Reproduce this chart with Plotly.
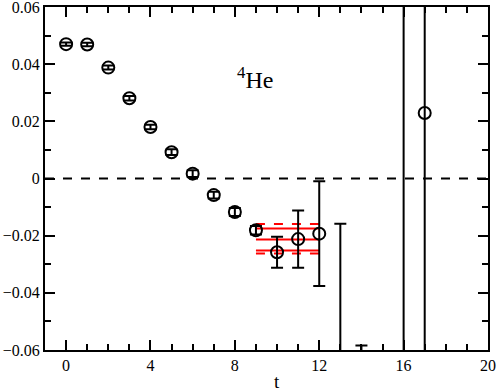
import plotly.graph_objects as go

t = [0, 1, 2, 3, 4, 5, 6, 7, 8, 9, 10, 11, 12, 13, 14, 16, 17]
val = [0.047, 0.0469, 0.0388, 0.0281, 0.0180, 0.0092, 0.0017, -0.0058, -0.0117, -0.0181,
       -0.0258, -0.0212, -0.0193, -0.090, -0.075, -0.150, 0.0229]
err = [0.0006, 0.0006, 0.0007, 0.0008, 0.0008, 0.0010, 0.0012, 0.0012, 0.0014, 0.0015,
       0.0054, 0.0100, 0.0183, 0.0742, 0.0166, 0.400, 0.300]

fit_t = [9, 12]
fit_center = -0.0213
fit_stat = [-0.0175, -0.0252]
fit_sys = [-0.0159, -0.0262]

x_tick_step = 4
y_tick_step = 0.02
x_range = [-1, 20]
y_range = [-0.06, 0.06]

label_font = "Liberation Serif"

fig = go.Figure()

# zero line
fig.add_trace(go.Scatter(x=x_range, y=[0, 0], mode="lines",
                         line=dict(color="black", width=2, dash="dash"),
                         hoverinfo="skip", showlegend=False))

# fit band
fig.add_trace(go.Scatter(x=fit_t, y=[fit_center] * 2, mode="lines",
                         line=dict(color="red", width=2), showlegend=False))
for v in fit_stat:
    fig.add_trace(go.Scatter(x=fit_t, y=[v] * 2, mode="lines",
                             line=dict(color="red", width=2), showlegend=False))
for v in fit_sys:
    fig.add_trace(go.Scatter(x=fit_t, y=[v] * 2, mode="lines",
                             line=dict(color="red", width=2, dash="dash"), showlegend=False))

# data
fig.add_trace(go.Scatter(
    x=t, y=val, mode="markers",
    marker=dict(symbol="circle-open", size=12, color="black", line=dict(width=2, color="black")),
    error_y=dict(type="data", array=err, visible=True, color="black", thickness=2, width=6),
    showlegend=False))

fig.add_annotation(x=8.0, y=0.035, xref="x", yref="y", showarrow=False,
                   text="<sup>4</sup>He", font=dict(family=label_font, size=24, color="black"),
                   xanchor="left", yanchor="middle")

fig.add_annotation(x=10, y=-0.093, xref="x", yref="paper", showarrow=False,
                   text="t", font=dict(family=label_font, size=19, color="black"),
                   xanchor="center", yanchor="middle")

axis_common = dict(showgrid=False, zeroline=False, showline=True, linecolor="black",
                   linewidth=2, mirror="ticks", ticks="inside", ticklen=10, tickwidth=2,
                   tickcolor="black", automargin=False, ticklabeloverflow="allow",
                   tickfont=dict(family=label_font, size=16, color="black"))

fig.update_xaxes(range=x_range, tickmode="linear", tick0=0, dtick=x_tick_step,
                 minor=dict(dtick=1, tick0=0, ticks="inside", ticklen=6, tickwidth=2, tickcolor="black"),
                 **axis_common)
fig.update_yaxes(range=y_range, tickmode="linear", tick0=0, dtick=y_tick_step, tickformat="~g",
                 minor=dict(dtick=0.01, tick0=0, ticks="inside", ticklen=6, tickwidth=2, tickcolor="black"),
                 **axis_common)

fig.update_layout(width=498, height=390, margin=dict(l=45, r=10, t=7, b=40),
                  font=dict(family=label_font, color="black"),
                  plot_bgcolor="white", paper_bgcolor="white")

fig.write_html("out.html", config={"displayModeBar": False},
               post_script="document.body.style.margin='0';document.body.style.overflow='hidden';")
